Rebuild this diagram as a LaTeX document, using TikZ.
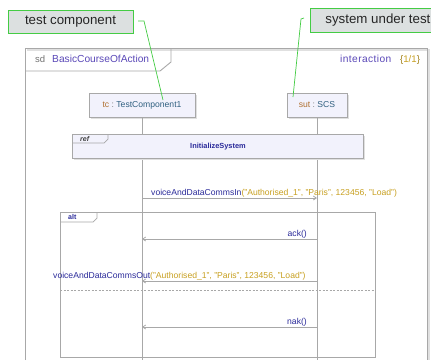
\documentclass[tikz,border=0pt]{standalone}
\usepackage{fontspec}
\setmainfont{Liberation Sans}
\usetikzlibrary{arrows.meta}
\definecolor{framegray}{HTML}{A8A8A8}
\definecolor{boxfill}{HTML}{F2F2FC}
\definecolor{leadgreen}{HTML}{44CC44}
\definecolor{notefill}{HTML}{DCE0E0}
\definecolor{msgblue}{HTML}{2A2A9A}
\definecolor{arggold}{HTML}{C8A020}
\definecolor{namepurple}{HTML}{5A48B8}
\definecolor{roleorange}{HTML}{B07030}
\definecolor{typeteal}{HTML}{306080}
\tikzset{
  note/.style={draw=leadgreen, fill=notefill, line width=0.8pt, inner sep=0pt, font=\fontsize{13.3}{15}\selectfont, text=black!85},
  leader/.style={draw=leadgreen, line width=0.7pt},
  frameline/.style={draw=framegray, line width=0.9pt},
  lifebox/.style={draw=framegray, fill=boxfill, line width=0.8pt, inner sep=0pt},
  lifeline/.style={draw=framegray, line width=0.8pt},
  msg/.style={draw=framegray, line width=0.8pt, -{Straight Barb[length=3pt,width=4pt]}},
  small/.style={font=\fontsize{8.6}{10}\selectfont, inner sep=0pt},
  sep/.style={draw=framegray, line width=0.6pt, dash pattern=on 2pt off 1.5pt},
}
\begin{document}
\begin{tikzpicture}[x=1pt,y=-1pt]
\useasboundingbox (0,0) rectangle (431,360);
\fill[white] (0,0) rectangle (431,360);
% outer frame (with faint shadow)
\draw[black!12, line width=1.5pt] (27,50) -- (429,50) -- (429,360);
\draw[frameline] (25,360) -- (25,48) -- (427,48) -- (427,360);
\draw[frameline] (25,71) -- (160,71) -- (171,62) -- (171,48);
\node[anchor=base west, inner sep=0pt, font=\fontsize{9.5}{11}\selectfont, text=black!55] (sdkw) at (35,62) {sd};
\node[anchor=base west, inner sep=0pt, font=\fontsize{10.2}{12}\selectfont, text=namepurple] (sdname) at (52,62) {BasicCourseOfAction};
\node[anchor=base west, inner sep=0pt, font=\fontsize{10.2}{12}\selectfont\addfontfeature{LetterSpace=4}, text=namepurple] (inter) at (340,62) {interaction};
\node[anchor=base west, inner sep=0pt, font=\fontsize{9.6}{11}\selectfont] (page) at (400,62) {\textcolor{arggold!80!black}{\{}\textcolor{arggold}{1/1}\textcolor{arggold!80!black}{\}}};
% lifeline heads
\fill[black!12] (91,95) rectangle (197,119);
\fill[black!12] (289,95) rectangle (349,119);
\node[lifebox, minimum width=106pt, minimum height=24pt] (tc) at (142,105) {};
\node[lifebox, minimum width=60pt, minimum height=24pt] (sut) at (317,105) {};
\node[small, text=roleorange] (tclab) at (tc.center) {tc\ \textcolor{black!55}{:}\ \textcolor{typeteal}{TestComponent1}};
\node[small, text=roleorange] (sutlab) at (sut.center) {sut\ \textcolor{black!55}{:}\ \textcolor{typeteal}{SCS}};
% bottom points of lifelines
\coordinate (tcEnd) at (142,360);
\coordinate (sutEnd) at (317,360);
\draw[lifeline] (tc.south) -- (tcEnd);
\draw[lifeline] (sut.south) -- (sutEnd);
% ref fragment
\fill[black!12] (74,136) rectangle (365,160);
\node[lifebox, minimum width=291pt, minimum height=24pt] (ref) at (217.5,146) {};
\draw[frameline, line width=0.7pt] (72,143) -- (104,143) -- (108,139) -- (108,134);
\node[anchor=base west, inner sep=0pt, font=\fontsize{7}{8}\selectfont\bfseries\itshape, text=black!75] (refkw) at (80,141) {ref};
\node[inner sep=0pt, font=\fontsize{7.4}{9}\selectfont\bfseries, text=msgblue] (initsys) at (218,146.5) {InitializeSystem};
% message 1
\coordinate (m1a) at (142,198);
\coordinate (m1b) at (317,198);
\draw[msg] (m1a) -- (m1b);
\node[small, anchor=south west] (m1lab) at (151,197) {\textcolor{msgblue}{voiceAndDataCommsIn}\textcolor{arggold}{(\char34Authorised\_1\char34, \char34Paris\char34, 123456, \char34Load\char34)}};
% alt fragment
\draw[frameline, line width=0.8pt] (60,357) -- (60,212) -- (375,212) -- (375,357) -- cycle;
\draw[frameline, line width=0.7pt] (60,222) -- (93,222) -- (97,218) -- (97,212);
\node[anchor=base west, inner sep=0pt, font=\fontsize{7}{8}\selectfont\bfseries, text=msgblue] (altkw) at (68,219.5) {alt};
\draw[sep] (60,290) -- (375,290);
% ack
\coordinate (m2a) at (317,239);
\coordinate (m2b) at (142,239);
\draw[msg] (m2a) -- (m2b);
\node[small, anchor=south east, text=msgblue] (m2lab) at (307,238) {ack()};
% out
\coordinate (m3a) at (317,281);
\coordinate (m3b) at (142,281);
\draw[msg] (m3a) -- (m3b);
\node[small, anchor=south west] (m3lab) at (53,280) {\textcolor{msgblue}{voiceAndDataCommsOut}\textcolor{arggold}{(\char34Authorised\_1\char34, \char34Paris\char34, 123456, \char34Load\char34)}};
% nak
\coordinate (m4a) at (317,327);
\coordinate (m4b) at (142,327);
\draw[msg] (m4a) -- (m4b);
\node[small, anchor=south east, text=msgblue] (m4lab) at (307,326) {nak()};
% annotation notes
\node[note, minimum width=125pt, minimum height=23pt] (notetc) at (70.5,21.5) {test component};
\node[note, minimum width=135pt, minimum height=24pt, anchor=west] (notesut) at (310,20) {system under test};
\coordinate (ltc1) at (138,21);
\coordinate (ltc2) at (144,21);
\coordinate (ltc3) at (163,100);
\draw[leader] (ltc1) -- (ltc2) -- (ltc3);
\coordinate (lsut1) at (304,18);
\coordinate (lsut2) at (301,19);
\coordinate (lsut3) at (293,97);
\draw[leader] (lsut1) -- (lsut2) -- (lsut3);
\end{tikzpicture}
\end{document}
